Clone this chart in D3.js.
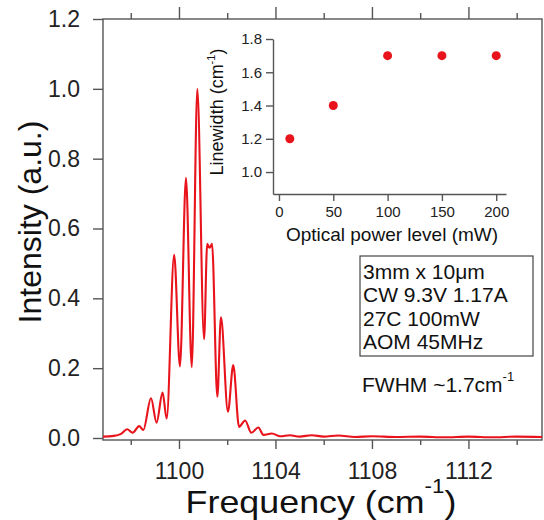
<!DOCTYPE html>
<html>
<head>
<meta charset="utf-8">
<script src="https://cdn.jsdelivr.net/npm/d3@7"></script>
<style>
  body { margin: 0; background: #fff; }
  svg { display: block; font-family: "Liberation Sans", Arial, sans-serif; }
  .frame path, .frame line { stroke: #555; stroke-width: 1.4; }
</style>
</head>
<body>
<div id="chart"></div>
<script>
const W = 544, H = 520;

// main spectrum
const freq = [1096.85, 1097.3, 1097.6, 1097.85, 1098.08, 1098.35, 1098.52, 1098.84, 1099.07, 1099.32,
  1099.49, 1099.80, 1100.04, 1100.29, 1100.53, 1100.76, 1101.04, 1101.17, 1101.27, 1101.37,
  1101.59, 1101.74, 1102.03, 1102.25, 1102.49, 1102.74, 1103.00, 1103.29, 1103.50, 1103.85,
  1104.2, 1104.6, 1105.0, 1105.5, 1106.0, 1106.6, 1107.3, 1108.0, 1109.0, 1110.0,
  1111.0, 1112.0, 1113.0, 1114.0, 1115.05];
const intensity = [0.004, 0.006, 0.012, 0.025, 0.015, 0.034, 0.023, 0.114, 0.044, 0.130,
  0.056, 0.525, 0.205, 0.745, 0.203, 1.0, 0.283, 0.556, 0.545, 0.556,
  0.118, 0.346, 0.075, 0.209, 0.032, 0.050, 0.015, 0.030, 0.009, 0.013,
  0.005, 0.008, 0.004, 0.008, 0.004, 0.007, 0.003, 0.005, 0.003, 0.004,
  0.002, 0.004, 0.002, 0.004, 0.003];
const yTicks = [0, 0.2, 0.4, 0.6, 0.8, 1.0, 1.2];
const xMajor = [1100, 1104, 1108, 1112];
const xMinor = [1098, 1102, 1106, 1110, 1114];

// inset: linewidth vs optical power
const power = [10, 50, 100, 150, 200];
const linewidth = [1.2, 1.4, 1.7, 1.7, 1.7];
const insetYTicks = [1.0, 1.2, 1.4, 1.6, 1.8];
const insetXTicks = [0, 50, 100, 150, 200];

const boxLines = ["3mm x 10\u03bcm", "CW 9.3V 1.17A", "27C 100mW", "AOM 45MHz"];

const red = "#e8131b";

const svg = d3.select("#chart").append("svg").attr("width", W).attr("height", H);

// main plot
const x = d3.scaleLinear().domain([1096.85, 1115.05]).range([103, 542]);
const y = d3.scaleLinear().domain([0, 1.2]).range([438, 19]);
const bottomY = 440;

svg.append("rect").attr("x", 103).attr("y", 19).attr("width", 439).attr("height", bottomY - 19)
  .attr("fill", "none").attr("stroke", "#555").attr("stroke-width", 1.4);

// left axis
const gl = svg.append("g").attr("class", "frame").attr("transform", "translate(103,0)")
  .call(d3.axisLeft(y).tickValues(yTicks).tickFormat(d3.format(".1f")).tickSize(10).tickSizeOuter(0).tickPadding(13));
gl.select(".domain").remove();
gl.selectAll("text").attr("font-size", 23).attr("fill", "#222");

// bottom axis
const gb = svg.append("g").attr("class", "frame").attr("transform", `translate(0,${bottomY})`)
  .call(d3.axisBottom(x).tickValues(xMajor).tickFormat(d3.format("d")).tickSize(9).tickSizeOuter(0).tickPadding(14));
gb.select(".domain").remove();
gb.selectAll("text").attr("font-size", 23).attr("fill", "#222");
const gbm = svg.append("g").attr("class", "frame").attr("transform", `translate(0,${bottomY})`)
  .call(d3.axisBottom(x).tickValues(xMinor).tickFormat("").tickSize(5).tickSizeOuter(0));
gbm.select(".domain").remove();

// top mirror ticks
const gt = svg.append("g").attr("class", "frame").attr("transform", "translate(0,19)")
  .call(d3.axisTop(x).tickValues(xMajor).tickFormat("").tickSize(12).tickSizeOuter(0));
gt.select(".domain").remove();
const gtm = svg.append("g").attr("class", "frame").attr("transform", "translate(0,19)")
  .call(d3.axisTop(x).tickValues(xMinor).tickFormat("").tickSize(6).tickSizeOuter(0));
gtm.select(".domain").remove();

// spectrum
const pts = freq.map((f, i) => [f, intensity[i]]);
svg.append("path").datum(pts)
  .attr("fill", "none").attr("stroke", red).attr("stroke-width", 2.1)
  .attr("d", d3.line().x(d => x(d[0])).y(d => y(d[1])).curve(d3.curveMonotoneX));

// axis titles (the x title is drawn a little wider, as in the picture)
const xt = svg.append("text").attr("transform", "translate(321,513) scale(1.12,1)").attr("text-anchor", "middle")
  .attr("font-size", 32).attr("fill", "#111");
xt.append("tspan").text("Frequency (cm");
xt.append("tspan").attr("font-size", 20).attr("dy", -20).text("-1");
xt.append("tspan").attr("dy", 20).text(")");

svg.append("text").attr("transform", "translate(41,222) rotate(-90)").attr("text-anchor", "middle")
  .attr("font-size", 32).attr("fill", "#111").text("Intensity (a.u.)");

// inset
const ix = d3.scaleLinear().domain([-5.5, 209]).range([273, 506]);
const iy = d3.scaleLinear().domain([0.868, 1.8]).range([194, 39]);

const gil = svg.append("g").attr("class", "frame").attr("transform", "translate(273,0)")
  .call(d3.axisLeft(iy).tickValues(insetYTicks).tickFormat(d3.format(".1f")).tickSize(7).tickSizeOuter(0).tickPadding(4));
gil.selectAll("text").attr("font-size", 15).attr("fill", "#222");
const gib = svg.append("g").attr("class", "frame").attr("transform", "translate(0,194)")
  .call(d3.axisBottom(ix).tickValues(insetXTicks).tickSize(7).tickSizeOuter(0).tickPadding(5));
gib.selectAll("text").attr("font-size", 15).attr("fill", "#222");

svg.append("g").selectAll("circle").data(power).join("circle")
  .attr("cx", d => ix(d)).attr("cy", (d, i) => iy(linewidth[i])).attr("r", 4.5).attr("fill", red);

svg.append("text").attr("x", 392).attr("y", 241).attr("text-anchor", "middle")
  .attr("font-size", 19).attr("fill", "#111").text("Optical power level (mW)");

const yl = svg.append("text").attr("transform", "translate(223,112) rotate(-90)").attr("text-anchor", "middle")
  .attr("font-size", 18).attr("fill", "#111");
yl.append("tspan").text("Linewidth (cm");
yl.append("tspan").attr("font-size", 11).attr("dy", -8).text("-1");
yl.append("tspan").attr("dy", 8).text(")");

// annotation box
svg.append("rect").attr("x", 360).attr("y", 256).attr("width", 173).attr("height", 100)
  .attr("fill", "none").attr("stroke", "#444").attr("stroke-width", 1.2);
svg.append("g").selectAll("text").data(boxLines).join("text")
  .attr("x", 363).attr("y", (d, i) => 279 + i * 23.4)
  .attr("font-size", 21).attr("fill", "#111").text(d => d);

const fw = svg.append("text").attr("x", 362).attr("y", 392).attr("font-size", 21).attr("fill", "#111");
fw.append("tspan").text("FWHM ~1.7cm");
fw.append("tspan").attr("font-size", 13).attr("dy", -11).text("-1");
</script>
</body>
</html>
